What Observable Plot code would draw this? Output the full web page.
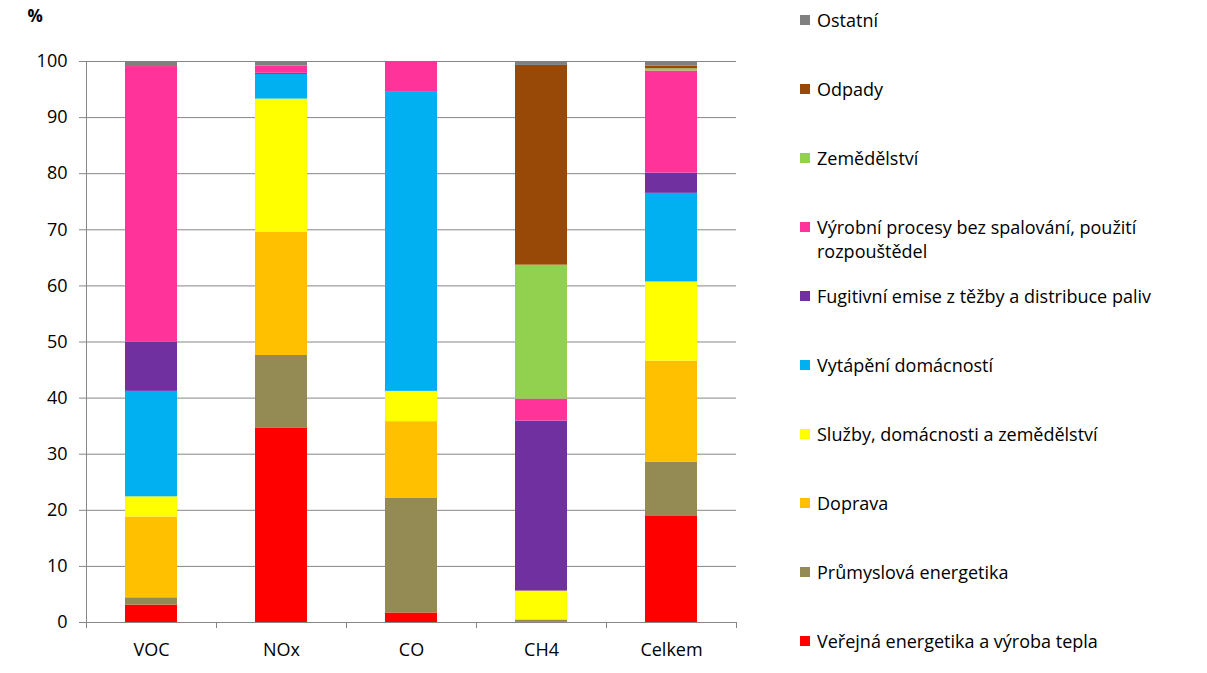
<!DOCTYPE html>
<html>
<head>
<meta charset="utf-8">
<script src="https://cdn.jsdelivr.net/npm/d3@7"></script>
<script src="https://cdn.jsdelivr.net/npm/@observablehq/plot@0.6"></script>
<style>
  body { margin: 0; background: #fff; }
  #wrap { position: relative; width: 1207px; height: 673px; font-family: "Open Sans", sans-serif; }
  #chart { position: absolute; left: 0; top: 0; }
  .lg { position: absolute; left: 800px; font-size: 18px; line-height: 24px; color: #000; }
  .lg .sw { position: absolute; left: 0; top: 7px; width: 10px; height: 10px; }
  .lg .tx { position: absolute; left: 17px; top: 0; width: 385px; white-space: normal; }
</style>
</head>
<body>
<div id="wrap"><div id="chart"></div></div>
<script>
// ---- data ----
const categories = ["VOC", "NOx", "CO", "CH4", "Celkem"];
const yTicks = [0, 10, 20, 30, 40, 50, 60, 70, 80, 90, 100];

// series, bottom of the stack first
const seriesNames = [
  "Veřejná energetika a výroba tepla",
  "Průmyslová energetika",
  "Doprava",
  "Služby, domácnosti a zemědělství",
  "Vytápění domácností",
  "Fugitivní emise z těžby a distribuce paliv",
  "Výrobní procesy bez spalování, použití rozpouštědel",
  "Zemědělství",
  "Odpady",
  "Ostatní"
];
const seriesColors = ["#FF0000", "#948A54", "#FFC000", "#FFFF00", "#00B0F0", "#7030A0", "#FF3399", "#92D050", "#984807", "#808080"];

const verejna     = [3.1, 34.6, 1.7, 0.1, 18.9];
const prumyslova  = [1.3, 13.0, 20.5, 0.3, 9.7];
const doprava     = [14.4, 22.0, 13.6, 0.1, 18.0];
const sluzby      = [3.6, 23.7, 5.4, 5.1, 14.1];
const vytapeni    = [18.8, 4.4, 53.3, 0.0, 15.8];
const fugitivni   = [8.8, 0.2, 0.0, 30.3, 3.6];
const vyrobni     = [49.1, 1.3, 5.5, 3.9, 18.2];
const zemedelstvi = [0.0, 0.0, 0.0, 23.9, 0.4];
const odpady      = [0.0, 0.0, 0.0, 35.6, 0.5];
const ostatni     = [0.9, 0.8, 0.0, 0.7, 0.8];

const seriesValues = [verejna, prumyslova, doprava, sluzby, vytapeni, fugitivni, vyrobni, zemedelstvi, odpady, ostatni];

const rows = [];
seriesNames.forEach((s, i) => categories.forEach((c, j) => rows.push({series: s, cat: c, value: seriesValues[i][j]})));

// ---- chart ----
const axisColor = "#868686";
const plot = Plot.plot({
  width: 780,
  height: 673,
  marginLeft: 85,
  marginRight: 44,
  marginTop: 61,
  marginBottom: 51,
  style: {fontFamily: "'Open Sans', sans-serif", fontSize: "18px", color: "#000", background: "#fff"},
  x: {domain: categories, paddingInner: 0.6, paddingOuter: 0.3, label: null},
  y: {domain: [0, 100], label: null},
  color: {domain: seriesNames, range: seriesColors},
  marks: [
    Plot.gridY(yTicks, {stroke: axisColor, strokeOpacity: 1, strokeWidth: 1}),
    Plot.barY(rows, {x: "cat", y: "value", fill: "series"}),
    Plot.axisY(yTicks, {tickSize: 6, tickPadding: 12, stroke: axisColor, fontSize: 18, fill: "#000"}),
    Plot.axisX({tickSize: 0, tickPadding: 21, fontSize: 18, fill: "#000"}),
    Plot.text(["%"], {frameAnchor: "top-left", dx: -58, dy: -52, fontWeight: "bold", fontSize: 17, fill: "#000"})
  ]
});
document.getElementById("chart").appendChild(plot);

// y axis line and category boundary ticks, positioned from Plot's scales
const xs = plot.scale("x"), ys = plot.scale("y");
const svg = d3.select(plot);
const y0 = ys.apply(0), y100 = ys.apply(100);
const half = xs.step / 2;
const bounds = [xs.apply(categories[0]) + xs.bandwidth / 2 - half,
  ...categories.map(c => xs.apply(c) + xs.bandwidth / 2 + half)];
const g = svg.append("g").attr("stroke", axisColor).attr("stroke-width", 1);
g.append("line").attr("x1", bounds[0] + 0.5).attr("x2", bounds[0] + 0.5).attr("y1", y100).attr("y2", y0 + 6);
bounds.forEach(b => g.append("line").attr("x1", b + 0.5).attr("x2", b + 0.5).attr("y1", y0).attr("y2", y0 + 6));

// legend (top to bottom = stack top to bottom)
const wrap = document.getElementById("wrap");
const legendOrder = seriesNames.map((s, i) => i).reverse();
legendOrder.forEach((i, k) => {
  const item = document.createElement("div");
  item.className = "lg";
  item.style.top = (8 + k * 68.95) + "px";
  item.innerHTML = `<div class="sw" style="background:${seriesColors[i]}"></div><div class="tx"></div>`;
  item.querySelector(".tx").textContent = seriesNames[i];
  wrap.appendChild(item);
});
</script>
</body>
</html>
